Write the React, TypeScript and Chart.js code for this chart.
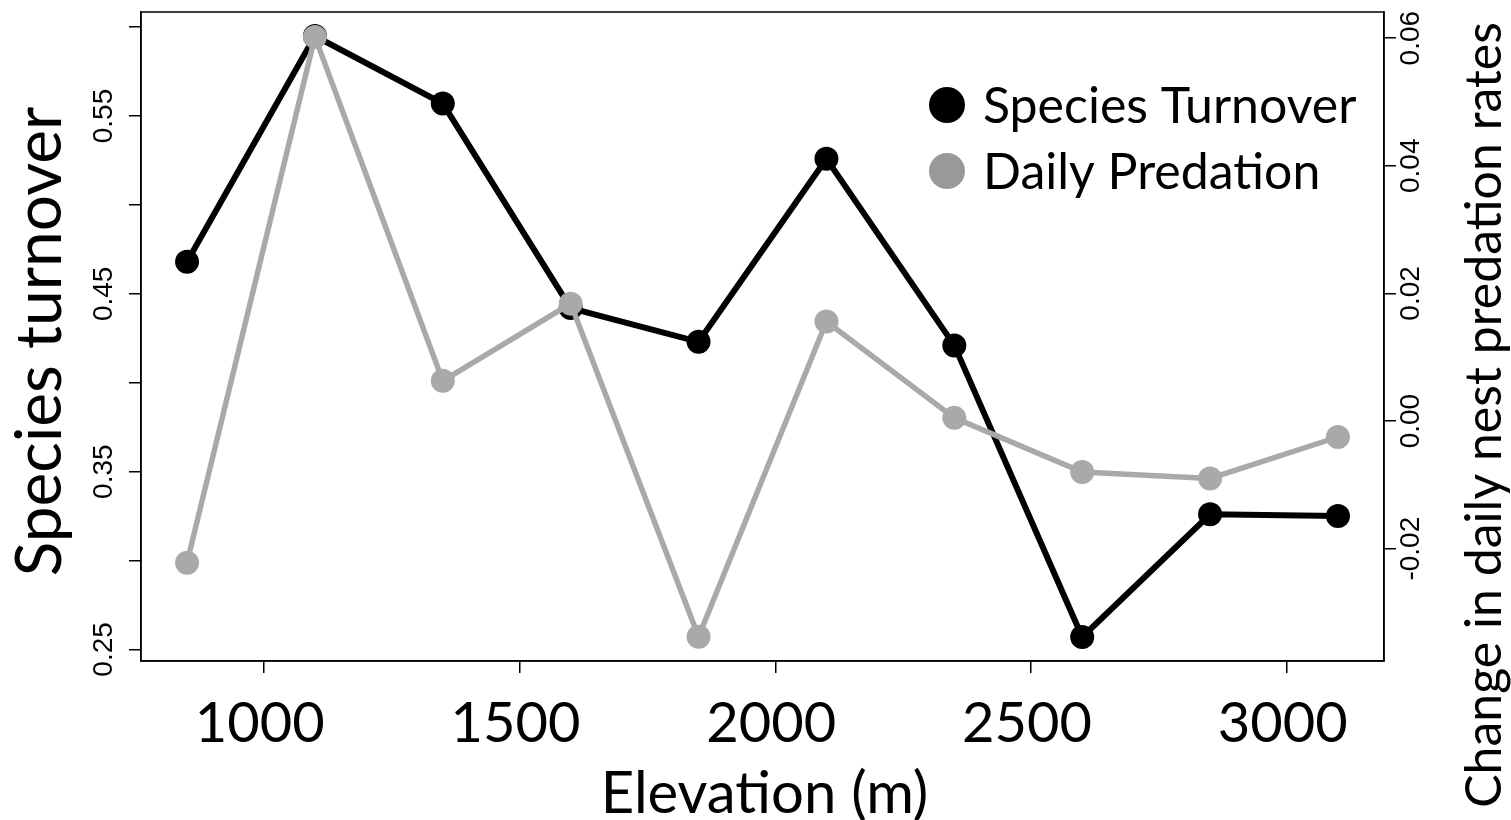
import React, { useEffect, useRef } from "react";
import { Chart, registerables } from "chart.js";

Chart.register(...registerables);

const elevations = [850, 1100, 1350, 1600, 1850, 2100, 2350, 2600, 2850, 3100];
const speciesTurnover = [0.468, 0.595, 0.557, 0.442, 0.423, 0.526, 0.421, 0.257, 0.326, 0.325];
const dailyPredation = [-0.0222, 0.0602, 0.0063, 0.0184, -0.0338, 0.0156, 0.0005, -0.008, -0.009, -0.0025];
const xTicks = [1000, 1500, 2000, 2500, 3000];
const xTickLabels = ["1000", "1500", "2000", "2500", "3000"];
const leftTicks = [0.25, 0.3, 0.35, 0.4, 0.45, 0.5, 0.55, 0.6];
const leftTickLabels = ["0.25", "", "0.35", "", "0.45", "", "0.55", ""];
const rightTicks = [-0.02, 0, 0.02, 0.04, 0.06];
const rightTickLabels = ["-0.02", "0.00", "0.02", "0.04", "0.06"];
const seriesNames = ["Species Turnover", "Daily Predation"];
const xTitle = "Elevation (m)";
const leftTitle = "Species turnover";
const rightTitle = "Change in daily nest predation rates";

const HUMANIST = "Lato, 'Open Sans', sans-serif";
const ARIAL = "'Liberation Sans', Arial, sans-serif";

const textPlugin = {
  id: "customText",
  afterDraw(chart: any) {
    const ctx = chart.ctx as CanvasRenderingContext2D;
    const area = chart.chartArea;
    const xs = chart.scales.x;
    const yl = chart.scales.y;
    const yr = chart.scales.y2;
    ctx.save();
    // box
    ctx.strokeStyle = "#000";
    ctx.lineWidth = 1.5;
    ctx.strokeRect(area.left, area.top, area.right - area.left, area.bottom - area.top);

    ctx.fillStyle = "#000";
    // left tick labels (rotated)
    ctx.font = `28px ${ARIAL}`;
    ctx.textAlign = "center";
    ctx.textBaseline = "middle";
    leftTicks.forEach((v, i) => {
      const lab = leftTickLabels[i];
      if (!lab) return;
      const y = yl.getPixelForValue(v);
      ctx.save();
      ctx.translate(104, y);
      ctx.rotate(-Math.PI / 2);
      ctx.fillText(lab, 0, 0);
      ctx.restore();
    });
    rightTicks.forEach((v, i) => {
      const y = yr.getPixelForValue(v);
      ctx.save();
      ctx.translate(1411, y);
      ctx.rotate(-Math.PI / 2);
      ctx.fillText(rightTickLabels[i], 0, 0);
      ctx.restore();
    });
    // x tick labels
    ctx.font = `56px ${HUMANIST}`;
    ctx.textBaseline = "middle";
    xTicks.forEach((v, i) => {
      const x = xs.getPixelForValue(v);
      ctx.fillText(xTickLabels[i], x - 4, 724);
    });
    // x title
    ctx.font = `58px ${HUMANIST}`;
    ctx.fillText(xTitle, (area.left + area.right) / 2 + 2, 794);
    // left title
    ctx.save();
    ctx.translate(40, (area.top + area.bottom) / 2 + 5);
    ctx.rotate(-Math.PI / 2);
    ctx.font = `64px ${HUMANIST}`;
    ctx.fillText(leftTitle, 0, 0);
    ctx.restore();
    // right title
    ctx.save();
    ctx.translate(1485, 415);
    ctx.rotate(-Math.PI / 2);
    ctx.font = `50px ${HUMANIST}`;
    ctx.fillText(rightTitle, 0, 0);
    ctx.restore();
    // legend
    const legendColors = ["#000000", "#999999"];
    const legendY = [105, 171];
    ctx.font = `50px ${HUMANIST}`;
    ctx.textAlign = "left";
    seriesNames.forEach((name, i) => {
      ctx.beginPath();
      ctx.fillStyle = legendColors[i];
      ctx.arc(947, legendY[i], 18, 0, Math.PI * 2);
      ctx.fill();
      ctx.fillStyle = "#000";
      ctx.fillText(name, 983, legendY[i] + 2);
    });
    ctx.restore();
  },
};

export default function App() {
  const ref = useRef<HTMLCanvasElement | null>(null);
  useEffect(() => {
    document.body.style.margin = "0";
    const canvas = ref.current;
    if (!canvas) return;
    const chart = new Chart(canvas, {
      type: "line",
      data: {
        datasets: [
          {
            label: seriesNames[1],
            data: elevations.map((x, i) => ({ x, y: dailyPredation[i] })),
            yAxisID: "y2",
            borderColor: "#a9a9a9",
            backgroundColor: "#a9a9a9",
            pointBackgroundColor: "#a9a9a9",
            pointBorderWidth: 0,
            pointRadius: 12,
            borderWidth: 5.5,
            tension: 0,
            order: 0,
          },
          {
            label: seriesNames[0],
            data: elevations.map((x, i) => ({ x, y: speciesTurnover[i] })),
            yAxisID: "y",
            borderColor: "#000000",
            backgroundColor: "#000000",
            pointBackgroundColor: "#000000",
            pointBorderWidth: 0,
            pointRadius: 12,
            borderWidth: 6,
            tension: 0,
            order: 1,
          },
        ],
      },
      options: {
        animation: false,
        responsive: false,
        devicePixelRatio: 1,
        layout: { padding: { top: 12, left: 0, right: 0, bottom: 0 } },
        plugins: { legend: { display: false }, tooltip: { enabled: false } },
        scales: {
          x: {
            type: "linear",
            min: 760,
            max: 3190,
            afterBuildTicks: (s: any) => {
              s.ticks = xTicks.map((v) => ({ value: v }));
            },
            afterFit: (s: any) => {
              s.height = 159;
            },
            grid: { display: true, drawOnChartArea: false, drawTicks: true, tickLength: 12, color: "#000", lineWidth: 1.5 },
            border: { display: true, color: "#000", width: 1.5 },
            ticks: { display: false },
          },
          y: {
            type: "linear",
            position: "left",
            min: 0.2435,
            max: 0.6085,
            afterBuildTicks: (s: any) => {
              s.ticks = leftTicks.map((v) => ({ value: v }));
            },
            afterFit: (s: any) => {
              s.width = 141;
            },
            grid: { display: true, drawOnChartArea: false, drawTicks: true, tickLength: 12, color: "#000", lineWidth: 1.5 },
            border: { display: true, color: "#000", width: 1.5 },
            ticks: { display: false },
          },
          y2: {
            type: "linear",
            position: "right",
            min: -0.0376,
            max: 0.0641,
            afterBuildTicks: (s: any) => {
              s.ticks = rightTicks.map((v) => ({ value: v }));
            },
            afterFit: (s: any) => {
              s.width = 127;
            },
            grid: { display: true, drawOnChartArea: false, drawTicks: true, tickLength: 12, color: "#000", lineWidth: 1.5 },
            border: { display: true, color: "#000", width: 1.5 },
            ticks: { display: false },
          },
        },
      },
      plugins: [textPlugin],
    } as any);
    return () => chart.destroy();
  }, []);
  return (
    <div style={{ position: "absolute", left: 0, top: 0, width: 1511, height: 820, background: "#fff" }}>
      <canvas ref={ref} width={1511} height={820} style={{ width: 1511, height: 820, display: "block" }} />
    </div>
  );
}
